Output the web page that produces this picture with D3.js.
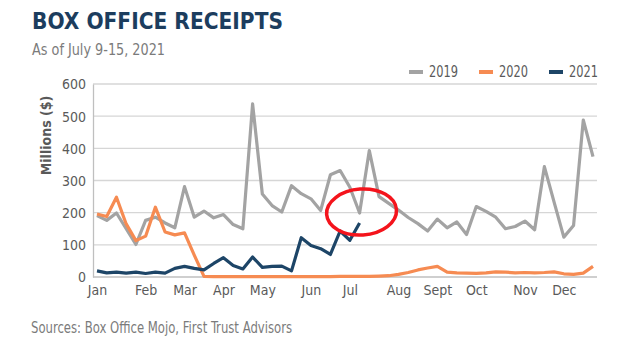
<!DOCTYPE html>
<html>
<head>
<meta charset="utf-8">
<script src="https://cdn.jsdelivr.net/npm/d3@7/dist/d3.min.js"></script>
<style>
  body { margin: 0; background: #fff; }
  text { font-family: "Liberation Sans Narrow", "DejaVu Sans Condensed", "Arial Narrow", sans-serif; }
</style>
</head>
<body>
<div id="chart"></div>
<script>
// weekly box office receipts, millions of $
var v2019 = [191, 176, 199, 150, 101, 176, 186, 168, 153, 281, 186, 205, 184, 194, 163, 150,
             538, 258, 222, 202, 284, 259, 243, 207, 318, 331, 279, 199, 393, 250, 229, 208,
             185, 166, 143, 180, 153, 171, 132, 219, 204, 186, 150, 157, 174, 147, 343, 233,
             124, 160, 488, 374];
var v2020 = [196, 188, 248, 165, 113, 127, 217, 140, 131, 137, 68, 2, 1, 1, 1, 1,
             1, 1, 1, 1, 1, 1, 1, 1, 1, 2, 2, 2, 2, 3, 4, 8,
             14, 22, 28, 33, 15, 13, 12, 11, 13, 16, 15, 13, 14, 13, 14, 16,
             10, 8, 12, 33];
var v2021 = [19, 13, 15, 12, 15, 11, 15, 12, 27, 33, 27, 22, 42, 60, 36, 25,
             62, 30, 33, 34, 19, 122, 98, 88, 70, 143, 114, 168];

var monthLabels = ["Jan", "Feb", "Mar", "Apr", "May", "Jun", "Jul", "Aug", "Sept", "Oct", "Nov", "Dec"];
var monthWeeks = [0, 5, 9, 13, 17, 22, 26, 31, 35, 39, 44, 48];
var yTicks = [0, 100, 200, 300, 400, 500, 600];

var seriesNames = ["2019", "2020", "2021"];
var seriesColors = ["#a3a3a3", "#f68b52", "#1d4567"];

var svgWidth = 635;
var svgHeight = 353;

var margin = {
    top: 84,
    right: 38,
    bottom: 76,
    left: 93
};

var width = svgWidth - margin.left - margin.right;
var height = svgHeight - margin.top - margin.bottom;

var svg = d3.select("#chart")
    .append("svg")
    .attr("width", svgWidth)
    .attr("height", svgHeight);

svg.append("rect")
    .attr("width", svgWidth)
    .attr("height", svgHeight)
    .attr("fill", "#fff");

var chartGroup = svg.append("g")
    .attr("transform", `translate(${margin.left}, ${margin.top})`);

var xScale = d3.scaleLinear()
    .domain([0, 51])
    .range([4, width - 4]);

var yScale = d3.scaleLinear()
    .domain([0, 600])
    .range([height, 0]);

// gridlines
chartGroup.append("g")
    .selectAll("line")
    .data(yTicks.filter(d => d > 0))
    .enter()
    .append("line")
    .attr("x1", 0)
    .attr("x2", width)
    .attr("y1", d => yScale(d))
    .attr("y2", d => yScale(d))
    .attr("stroke", "#d6d6d6")
    .attr("stroke-width", 1.3);

// axes
var leftAxis = d3.axisLeft(yScale)
    .tickValues(yTicks)
    .tickSize(0)
    .tickPadding(7);

var bottomAxis = d3.axisBottom(xScale)
    .tickValues(monthWeeks)
    .tickFormat((d, i) => monthLabels[i])
    .tickSize(0)
    .tickPadding(8);

var yAxisG = chartGroup.append("g").call(leftAxis);
var xAxisG = chartGroup.append("g")
    .attr("transform", `translate(0, ${height})`)
    .call(bottomAxis);

[yAxisG, xAxisG].forEach(function (g) {
    g.select(".domain").attr("stroke", "#bfbfbf").attr("stroke-width", 1.3);
    g.selectAll("text")
        .attr("fill", "#5a5a5a")
        .style("font-size", "14px");
});
xAxisG.select(".domain").attr("d", `M0,0H${width}`);
yAxisG.selectAll("text").attr("dy", "0.35em");

// lines
var line = d3.line()
    .x((d, i) => xScale(i))
    .y(d => yScale(d));

[v2019, v2020, v2021].forEach(function (values, k) {
    chartGroup.append("path")
        .datum(values)
        .attr("fill", "none")
        .attr("stroke", seriesColors[k])
        .attr("stroke-width", 3.2)
        .attr("stroke-linejoin", "round")
        .attr("d", line);
});

// hand drawn red circle
chartGroup.append("ellipse")
    .attr("cx", xScale(27.2))
    .attr("cy", yScale(202))
    .attr("rx", 35)
    .attr("ry", 23)
    .attr("transform", `rotate(-4, ${xScale(27.2)}, ${yScale(202)})`)
    .attr("fill", "none")
    .attr("stroke", "#f4141c")
    .attr("stroke-width", 3.5);

// y axis title
chartGroup.append("text")
    .attr("transform", "rotate(-90)")
    .attr("x", 0 - yScale(440))
    .attr("y", -42)
    .attr("text-anchor", "middle")
    .attr("fill", "#595959")
    .style("font-size", "14px")
    .style("font-weight", "bold")
    .text("Millions ($)");

// legend
var legend = svg.append("g")
    .selectAll("g")
    .data(seriesNames)
    .enter()
    .append("g")
    .attr("transform", (d, i) => `translate(${[409, 479, 549][i]}, 72)`);

legend.append("line")
    .attr("x1", 0)
    .attr("x2", 14)
    .attr("stroke", (d, i) => seriesColors[i])
    .attr("stroke-width", 4);

legend.append("text")
    .attr("x", 20)
    .attr("dy", "0.36em")
    .attr("fill", "#5a5a5a")
    .style("font-size", "15px")
    .attr("textLength", 29)
    .attr("lengthAdjust", "spacingAndGlyphs")
    .text(d => d);

// title, subtitle, source
svg.append("text")
    .attr("x", 32)
    .attr("y", 29)
    .attr("fill", "#1c3d5e")
    .style("font-size", "23px")
    .style("font-weight", "bold")
    .attr("textLength", 251)
    .attr("lengthAdjust", "spacingAndGlyphs")
    .text("BOX OFFICE RECEIPTS");

svg.append("text")
    .attr("x", 32)
    .attr("y", 55)
    .attr("fill", "#7b7b7b")
    .style("font-size", "16px")
    .attr("textLength", 133)
    .attr("lengthAdjust", "spacingAndGlyphs")
    .text("As of July 9-15, 2021");

svg.append("text")
    .attr("x", 31)
    .attr("y", 333)
    .attr("fill", "#7b7b7b")
    .style("font-size", "16px")
    .attr("textLength", 261)
    .attr("lengthAdjust", "spacingAndGlyphs")
    .text("Sources: Box Office Mojo, First Trust Advisors");
</script>
</body>
</html>
